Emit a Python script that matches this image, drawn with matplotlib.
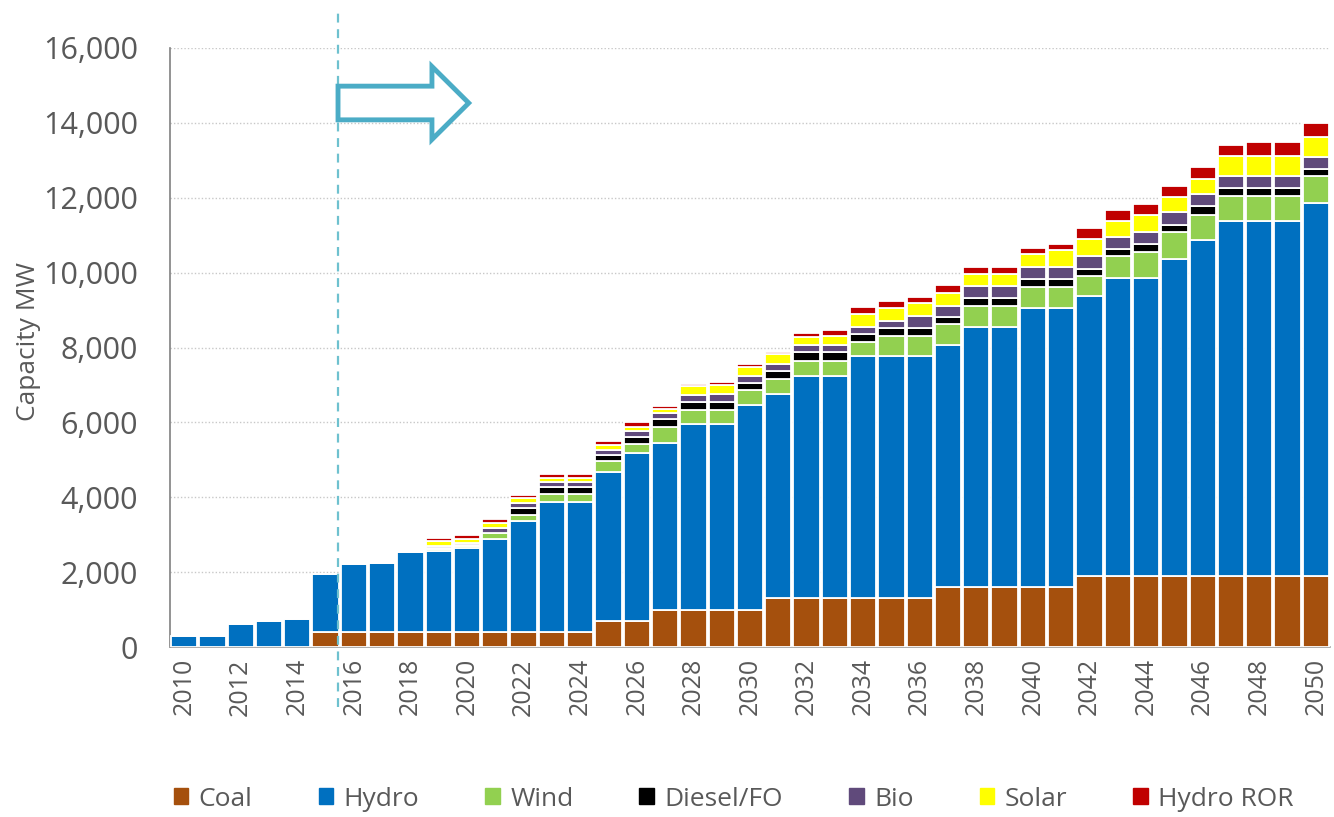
import matplotlib
matplotlib.use("Agg")
import matplotlib.pyplot as plt
from matplotlib.patches import FancyArrow
from matplotlib.lines import Line2D
from matplotlib.ticker import FuncFormatter, MultipleLocator
import numpy as np

years = list(range(2010, 2051))

# Installed capacity by technology (MW), one value per year 2010-2050
coal = [0, 0, 0, 0, 0, 400, 400, 400, 400, 400,
        400, 400, 400, 400, 400, 700, 700, 1000, 1000, 1000,
        1000, 1300, 1300, 1300, 1300, 1300, 1300, 1600, 1600, 1600,
        1600, 1600, 1900, 1900, 1900, 1900, 1900, 1900, 1900, 1900,
        1900]
hydro = [290, 300, 620, 700, 760, 1540, 1810, 1850, 2140, 2160,
         2240, 2480, 2970, 3480, 3480, 3980, 4480, 4460, 4960, 4960,
         5470, 5460, 5950, 5950, 6460, 6460, 6460, 6460, 6960, 6960,
         7460, 7460, 7480, 7960, 7960, 8460, 8970, 9470, 9470, 9470,
         9970]
wind = [0, 0, 0, 0, 0, 0, 0, 0, 0, 60,
        60, 170, 170, 210, 210, 280, 240, 420, 380, 380,
        390, 390, 390, 390, 380, 550, 550, 560, 540, 540,
        560, 560, 530, 590, 690, 730, 660, 670, 670, 670,
        720]
diesel = [0, 0, 0, 0, 0, 0, 0, 0, 0, 20,
          20, 0, 180, 180, 180, 170, 190, 200, 210, 210,
          200, 220, 230, 230, 220, 210, 210, 190, 220, 220,
          220, 220, 200, 180, 210, 180, 250, 230, 230, 230,
          170]
bio = [0, 0, 0, 0, 0, 0, 0, 0, 0, 60,
       60, 130, 130, 130, 130, 130, 150, 160, 180, 200,
       190, 180, 200, 200, 200, 200, 330, 310, 310, 310,
       310, 310, 340, 330, 330, 340, 320, 320, 320, 320,
       330]
solar = [0, 0, 0, 0, 0, 0, 0, 0, 0, 120,
         110, 130, 130, 120, 120, 130, 130, 120, 230, 240,
         240, 270, 220, 230, 330, 340, 330, 340, 320, 320,
         360, 460, 440, 410, 440, 400, 410, 520, 520, 520,
         520]
hydro_ror = [0, 0, 0, 0, 0, 0, 0, 0, 0, 80,
             90, 100, 90, 100, 100, 110, 110, 70, 60, 80,
             70, 70, 90, 180, 190, 180, 180, 200, 210, 210,
             150, 160, 290, 300, 290, 300, 300, 310, 380, 380,
             390]

series_names = ["Coal", "Hydro", "Wind", "Diesel/FO", "Bio", "Solar", "Hydro ROR"]
series_colors = ["#A5500D", "#0070C0", "#92D050", "#000000", "#604A7B", "#FFFF00", "#C00000"]
series_values = [coal, hydro, wind, diesel, bio, solar, hydro_ror]

plt.rcParams["font.family"] = ["Open Sans", "DejaVu Sans"]
text_color = "#595959"

fig = plt.figure(figsize=(13.34, 8.17), dpi=100)
ax = fig.add_axes([0.1274, 0.208, 0.8696, 0.7333])

x = np.arange(len(years))
bottom = np.zeros(len(years))
handles = []
for name, color, vals in zip(series_names, series_colors, series_values):
    vals = np.asarray(vals, dtype=float)
    ax.bar(x, vals, width=0.93, bottom=bottom, color=color,
           edgecolor="white", linewidth=1.3, zorder=3)
    bottom += vals
    handles.append(plt.Rectangle((0, 0), 1, 1, color=color))

ax.set_xlim(-0.5, len(years) - 0.5)
ax.set_ylim(0, 16000)
ax.yaxis.set_major_locator(MultipleLocator(2000))
ax.yaxis.set_major_formatter(FuncFormatter(lambda v, p: f"{int(v):,}"))
ax.grid(axis="y", color="#C8C8C8", linestyle=(0, (1, 1.5)), linewidth=1.0, zorder=0)
ax.set_axisbelow(True)

ax.set_xticks(x[::2])
ax.set_xticklabels([str(y) for y in years[::2]], rotation=90)
ax.tick_params(axis="x", length=0, pad=8, labelsize=18, labelcolor=text_color)
ax.tick_params(axis="y", length=0, pad=23, labelsize=22, labelcolor=text_color)

for s in ["top", "right"]:
    ax.spines[s].set_visible(False)
ax.spines["left"].set_color("#808080")
ax.spines["left"].set_linewidth(1.2)
ax.spines["bottom"].set_color("#A0A0A0")
ax.spines["bottom"].set_linewidth(1.2)

ax.set_ylabel("Capacity MW", fontsize=19, color=text_color)
ax.yaxis.set_label_coords(-0.111, 0.51)

# Divider between historical and planned years
div_x = 5.44
ax.add_line(Line2D([div_x, div_x], [-1600, 16950], color="#6EC1CF",
                   linestyle=(0, (4, 3)), linewidth=1.6, clip_on=False, zorder=4))

# Outlined arrow pointing towards the planning horizon
ax.add_patch(FancyArrow(div_x, 14530, 4.62, 0, width=900, head_width=1950,
                        head_length=1.3, length_includes_head=True,
                        facecolor="white", edgecolor="#4BACC6", linewidth=3.5,
                        zorder=5, clip_on=False))

fig.legend(handles, series_names, loc="center", bbox_to_anchor=(0.55, 0.022),
           ncol=7, frameon=False, fontsize=19, labelcolor=text_color,
           handlelength=0.55, handleheight=0.55, handletextpad=0.4,
           columnspacing=2.5)

fig.savefig("out.png", dpi=100)
